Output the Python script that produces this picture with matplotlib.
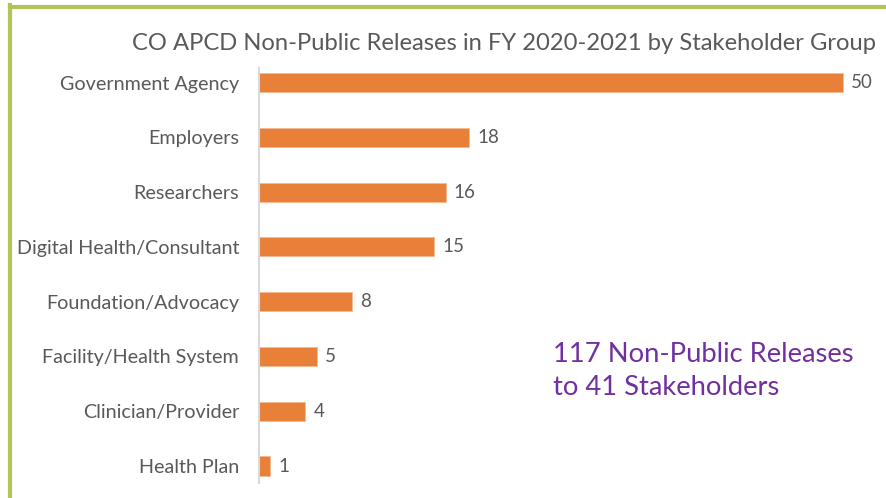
import matplotlib
matplotlib.use("Agg")
import matplotlib.pyplot as plt
from matplotlib.lines import Line2D

categories = ["Government Agency", "Employers", "Researchers", "Digital Health/Consultant",
              "Foundation/Advocacy", "Facility/Health System", "Clinician/Provider", "Health Plan"]
values = [50, 18, 16, 15, 8, 5, 4, 1]
title = "CO APCD Non-Public Releases in FY 2020-2021 by Stakeholder Group"
note_lines = ["117 Non-Public Releases", "to 41 Stakeholders"]

W, H = 886, 498
fig = plt.figure(figsize=(W / 100, H / 100), dpi=100)
plt.rcParams['font.family'] = ['Lato', 'DejaVu Sans']

ax_left, ax_right, ax_top, ax_bot = 258.5, 886, 68, 483
ax = fig.add_axes([ax_left / W, 1 - ax_bot / H, (ax_right - ax_left) / W, (ax_bot - ax_top) / H])

ypos = list(range(len(categories)))
ax.barh(ypos, values, height=0.35, color="#E8803A", edgecolor="#F3B98E", linewidth=0.6)
xmax = 50 * (ax_right - ax_left) / (843 - ax_left)
ax.set_xlim(0, xmax)
ax.set_ylim(7.31, -0.265)

gray = "#595959"
for y, v in zip(ypos, values):
    ax.annotate(str(v), (v, y), xytext=(6, 0), textcoords="offset points",
                va="center", ha="left", fontsize=13.5, color=gray)

ax.set_yticks(ypos)
ax.set_yticklabels(categories, fontsize=14.2, color=gray)
ax.tick_params(axis="y", length=0, pad=14)
ax.set_xticks([])
for s in ["top", "right", "bottom"]:
    ax.spines[s].set_visible(False)
ax.spines["left"].set_color("#D9D9D9")
ax.spines["left"].set_linewidth(1.5)

fig.text(504 / W, 1 - 44 / H, title, ha="center", va="center", fontsize=17.1, color=gray)
fig.text(553 / W, 1 - 354 / H, note_lines[0], ha="left", va="center", fontsize=19.7, color="#7030A0")
fig.text(553 / W, 1 - 387 / H, note_lines[1], ha="left", va="center", fontsize=19.7, color="#7030A0")

green = "#B3C35A"
fig.add_artist(Line2D([10 / W, 10 / W], [0, 1 - 5 / H], transform=fig.transFigure,
                      color=green, linewidth=3, solid_capstyle="projecting"))
fig.add_artist(Line2D([10 / W, 1], [1 - 7 / H, 1 - 7 / H], transform=fig.transFigure,
                      color=green, linewidth=3, solid_capstyle="projecting"))

fig.savefig("out.png", dpi=100)
